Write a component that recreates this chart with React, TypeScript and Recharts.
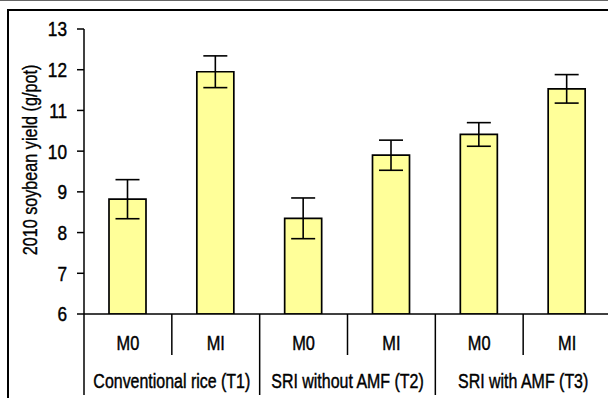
import React from 'react';
import { BarChart, Bar, XAxis, YAxis, ErrorBar } from 'recharts';

const subLabels = ['M0', 'MI', 'M0', 'MI', 'M0', 'MI'];
const groupLabels = [
  'Conventional rice (T1)',
  'Conventional rice (T1)',
  'SRI without AMF (T2)',
  'SRI without AMF (T2)',
  'SRI with AMF (T3)',
  'SRI with AMF (T3)',
];
const yieldValues = [8.82, 11.95, 8.35, 9.9, 10.41, 11.53];
const errorValues = [0.48, 0.39, 0.5, 0.37, 0.29, 0.35];
const yTicks = [6, 7, 8, 9, 10, 11, 12, 13];

const data = subLabels.map((s, i) => ({
  sub: s,
  group: groupLabels[i],
  value: yieldValues[i],
  err: errorValues[i],
}));

const FONT = '"Liberation Sans", Arial, sans-serif';
const CHART_W = 620;
const CHART_H = 398;
const MARGIN = { top: 29, right: 9, bottom: 0, left: 0 };
const Y_W = 84;
const SUB_H = 41;
const GROUP_H = 43;
const BAND = (CHART_W - MARGIN.right - MARGIN.left - Y_W) / subLabels.length;
const TEXT_STROKE = 0.45;

const SubTick = (props: any) => {
  const { x, y, payload, index } = props;
  const major = index % 2 === 1;
  return (
    <g>
      {index === 0 && (
        <line x1={x - BAND / 2} x2={x - BAND / 2} y1={y} y2={395} stroke="#000" strokeWidth={1.5} />
      )}
      <line
        x1={x + BAND / 2}
        x2={x + BAND / 2}
        y1={y}
        y2={major ? 395 : y + SUB_H}
        stroke="#000"
        strokeWidth={1.5}
      />
      <text
        transform={`translate(${x},${y + 36}) scale(0.78,1)`}
        textAnchor="middle"
        fontFamily={FONT}
        fontSize={21}
        fill="#000"
        stroke="#000"
        strokeWidth={TEXT_STROKE}
      >
        {payload.value}
      </text>
    </g>
  );
};

const GroupTick = (props: any) => {
  const { x, y, payload } = props;
  return (
    <text
      transform={`translate(${x},${y + 33}) scale(0.76,1)`}
      textAnchor="middle"
      fontFamily={FONT}
      fontSize={21}
      fill="#000"
      stroke="#000"
      strokeWidth={TEXT_STROKE}
    >
      {payload.value}
    </text>
  );
};

const YTick = (props: any) => {
  const { x, y, payload } = props;
  return (
    <text
      transform={`translate(${x},${y}) scale(0.82,1)`}
      textAnchor="end"
      dy="0.355em"
      fontFamily={FONT}
      fontSize={21}
      fill="#000"
      stroke="#000"
      strokeWidth={TEXT_STROKE}
    >
      {payload.value}
    </text>
  );
};

const YLabel = () => (
  <text
    transform="translate(37,160) rotate(-90) scale(0.77,1)"
    textAnchor="middle"
    fontFamily={FONT}
    fontSize={21}
    fill="#000"
    stroke="#000"
    strokeWidth={0.35}
  >
    2010 soybean yield (g/pot)
  </text>
);

export default function App() {
  return (
    <div style={{ position: 'absolute', left: 0, top: 0, width: 608, height: 398, overflow: 'hidden', background: '#fff' }}>
      <div style={{ position: 'absolute', left: 0, top: 0, width: 608, height: 1, background: '#666' }} />
      <div
        style={{
          position: 'absolute',
          left: 7,
          top: 9,
          width: 800,
          height: 600,
          border: '2px solid #000',
          boxSizing: 'border-box',
        }}
      />
      <div style={{ position: 'absolute', left: 0, top: 0 }}>
        <BarChart width={CHART_W} height={CHART_H} data={data} margin={MARGIN} barSize={37}>
          <XAxis
            dataKey="sub"
            height={SUB_H}
            tickLine={false}
            tickSize={0}
            tickMargin={0}
            axisLine={{ stroke: '#000', strokeWidth: 1.5 }}
            tick={<SubTick />}
            interval={0}
          />
          <XAxis
            xAxisId="g"
            dataKey="group"
            allowDuplicatedCategory={false}
            height={GROUP_H}
            tickLine={false}
            tickSize={0}
            tickMargin={0}
            axisLine={false}
            tick={<GroupTick />}
            interval={0}
          />
          <YAxis
            width={Y_W}
            domain={[6, 13]}
            ticks={yTicks}
            interval={0}
            allowDataOverflow
            tickSize={7}
            tickMargin={10}
            axisLine={{ stroke: '#000', strokeWidth: 1.5 }}
            tickLine={{ stroke: '#000', strokeWidth: 1.5 }}
            tick={<YTick />}
            label={<YLabel />}
          />
          <Bar dataKey="value" fill="#FFFF99" stroke="#000" strokeWidth={1.7} isAnimationActive={false}>
            <ErrorBar dataKey="err" width={12} stroke="#000" strokeWidth={1.6} isAnimationActive={false} />
          </Bar>
        </BarChart>
      </div>
    </div>
  );
}
